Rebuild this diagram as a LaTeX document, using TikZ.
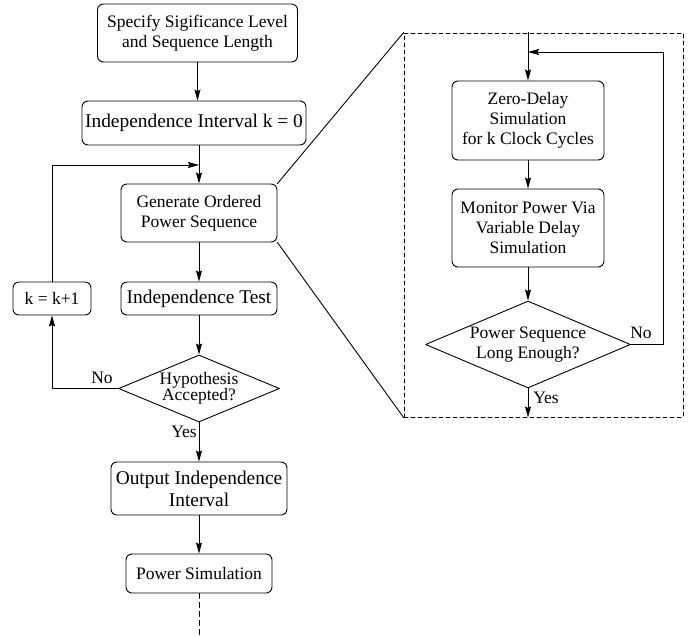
\documentclass[tikz,border=0pt]{standalone}
\usepackage{fontspec}
\setmainfont{Liberation Serif}
\usetikzlibrary{arrows.meta,shapes.geometric}
\tikzset{
  procbox/.style={draw,rounded corners=6pt,inner sep=0pt,align=center,font=\fontsize{17.5}{20}\selectfont},
  bigbox/.style={procbox,font=\fontsize{19.4}{22}\selectfont},
  decision/.style={draw,diamond,inner sep=0pt,align=center,font=\fontsize{17.5}{20}\selectfont},
  lbl/.style={inner sep=0pt,font=\fontsize{17.5}{20}\selectfont}
}

\begin{document}
\begin{tikzpicture}[line cap=round,line join=round,>={Stealth[length=11pt,width=6pt,inset=1.5pt]},x=1pt,y=-1pt,line width=0.9pt]
	\useasboundingbox (0,0) rectangle (700,635);
	% main flow
	\node[procbox,minimum width=200pt,minimum height=58pt] (spec) at (197.5,33) {Specify Sigificance Level\\and Sequence Length};
	\node[bigbox,minimum width=224pt,minimum height=44pt] (init) at (194,123) {Independence Interval k = 0};
	\node[procbox,minimum width=156pt,minimum height=58pt] (gen) at (199,213) {Generate Ordered\\Power Sequence};
	\node[bigbox,minimum width=156pt,minimum height=33pt] (test) at (199,298.5) {Independence Test};
	\node[procbox,minimum width=78pt,minimum height=33pt] (incr) at (52,298.5) {k = k+1};
	\node[decision,aspect=2.4,minimum width=161pt,minimum height=67pt,font=\fontsize{17.5}{16}\selectfont] (hyp) at (199,388.5) {Hypothesis\\Accepted?};
	\node[bigbox,minimum width=176pt,minimum height=53pt] (out) at (199,488.5) {Output Independence\\Interval};
	\node[procbox,minimum width=146pt,minimum height=39pt] (sim) at (199,573.5) {Power Simulation};
	\coordinate (join) at (199,165);
	\coordinate (corner) at (52,165);
	\coordinate (tail) at (199,635);

	\draw[->] (spec.south) -- (spec.south |- init.north);
	\draw (init.south -| gen.north) -- (join);
	\draw[->] (join) -- (gen.north);
	\draw[->] (gen) -- (test);
	\draw[->] (test) -- (hyp);
	\draw[->] (hyp.west) -| (incr.south);
	\draw[->] (incr.north) -- (corner) -- (join);
	\draw[->] (hyp.south) -- (out.north);
	\draw[->] (out) -- (sim);
	\draw[dash pattern=on 5pt off 4pt] (sim.south) -- (tail);
	\node[lbl] (no1) at (102,378) {No};
	\node[lbl] (yes1) at (184,432) {Yes};

	% detail of the generation step
	\node[draw,dash pattern=on 4pt off 3pt,inner sep=0pt,minimum width=279pt,minimum height=384pt] (detail) at (543.5,225) {};
	\draw (gen.north east) -- (detail.north west);
	\draw (gen.south east) -- (detail.south west);

	\node[procbox,minimum width=152pt,minimum height=79pt] (zero) at (528,120.5) {Zero-Delay\\Simulation\\for k Clock Cycles};
	\node[procbox,minimum width=152pt,minimum height=78pt] (mon) at (528,228) {Monitor Power Via\\Variable Delay\\Simulation};
	\node[decision,aspect=2.36,minimum width=205pt,minimum height=87pt] (len) at (528,344.5) {Power Sequence\\Long Enough?};
	\coordinate (join2) at (528,52);
	\coordinate (corner2) at (663,52);

	\draw (detail.north -| zero.north) -- (join2);
	\draw[->] (join2) -- (zero.north);
	\draw[->] (zero) -- (mon);
	\draw[->] (mon) -- (len);
	\draw[->] (len.east) -| (corner2) -- (join2);
	\draw[->] (len.south) -- (len.south |- detail.south);
	\node[lbl] (no2) at (641,333) {No};
	\node[lbl] (yes2) at (546,398) {Yes};
\end{tikzpicture}
\end{document}
